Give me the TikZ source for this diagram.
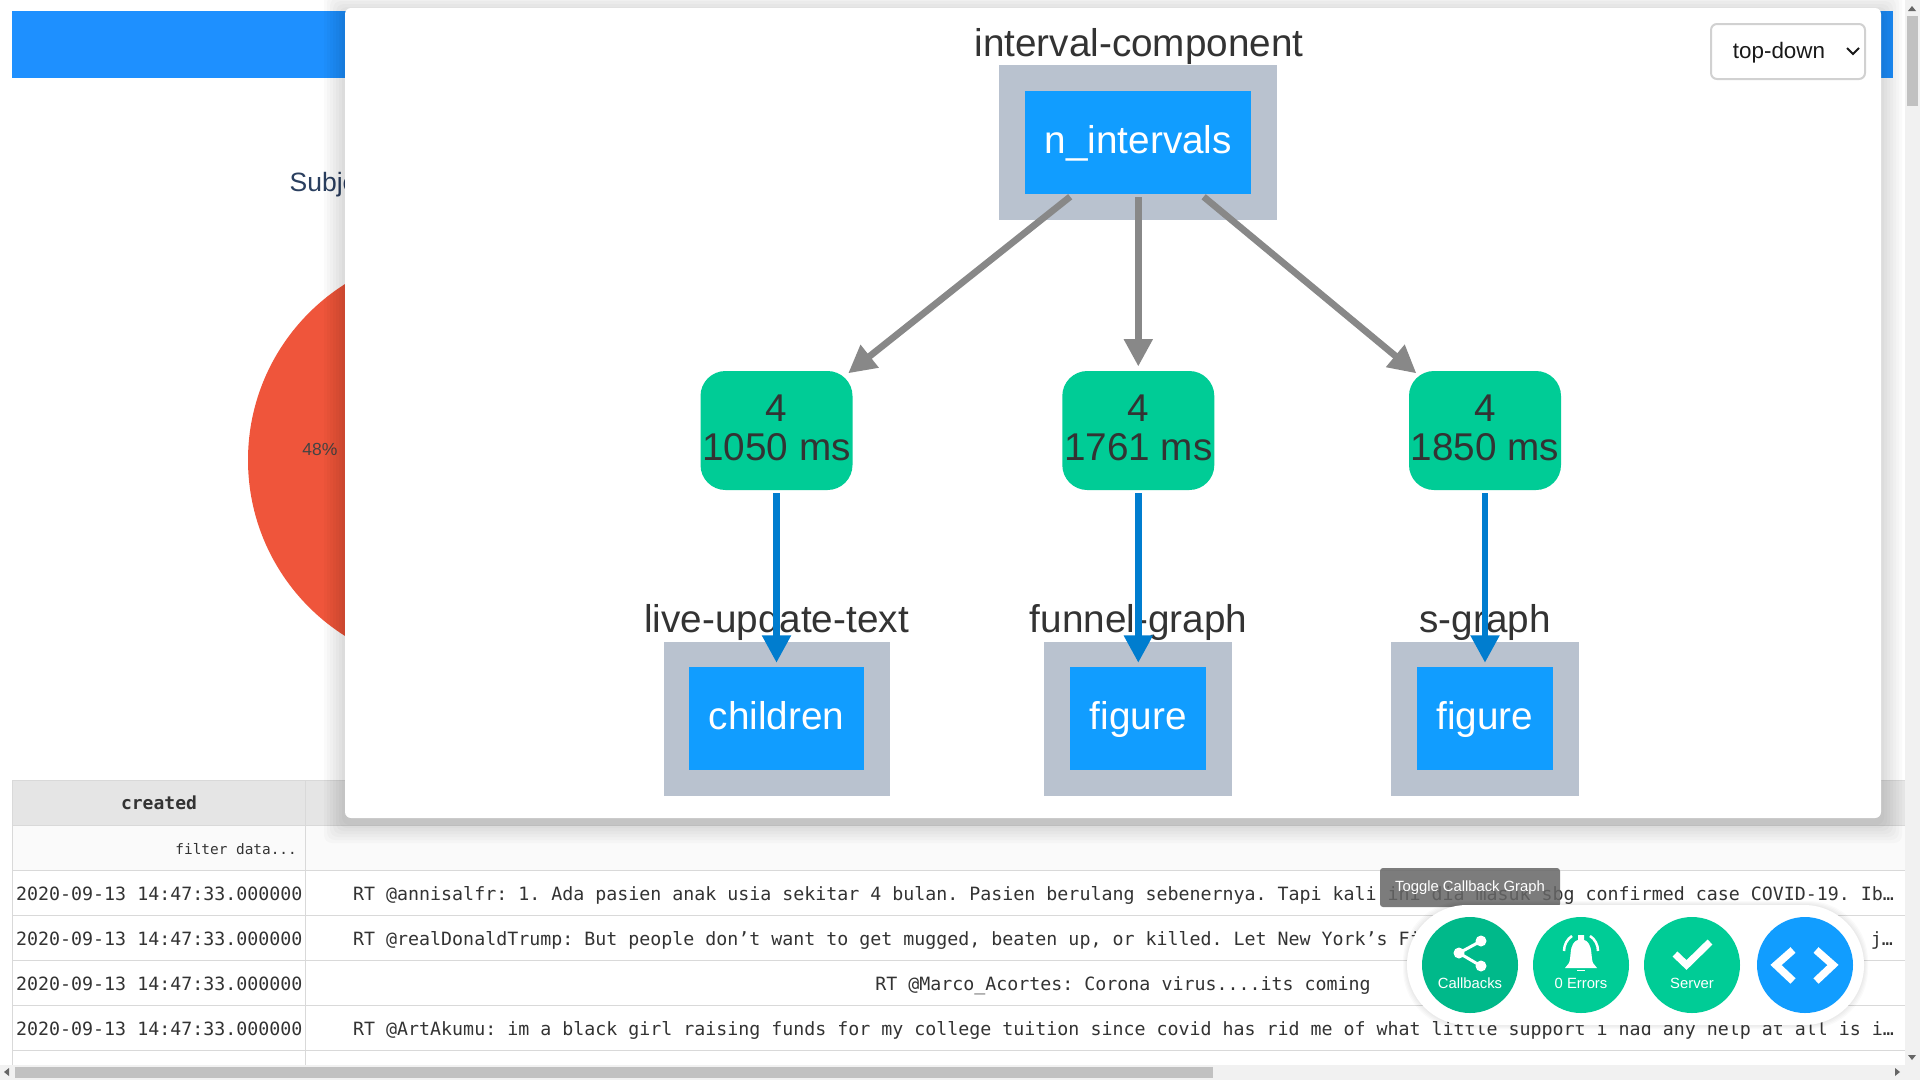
\documentclass[tikz,border=0pt]{standalone}
\usepackage{fontspec}
\setmainfont{Liberation Sans}
\setmonofont{DejaVu Sans Mono}
\usepackage{tikz}
\usetikzlibrary{arrows.meta}
\definecolor{plotblue}{HTML}{119DFF}
\definecolor{barblue}{HTML}{1E90FF}
\definecolor{plotgreen}{HTML}{00CC96}
\definecolor{plotdark}{HTML}{00B98A}
\definecolor{wrapgray}{HTML}{B9C2CF}
\definecolor{gridgray}{HTML}{D9D9D9}
\definecolor{trackgray}{HTML}{F1F1F1}
\definecolor{thumbgray}{HTML}{C1C1C1}
\definecolor{titlenavy}{HTML}{2A3F5F}
\definecolor{piered}{HTML}{EF553B}
\definecolor{edgeblue}{HTML}{007DCF}
\definecolor{edgegray}{HTML}{888888}
\definecolor{pctgray}{HTML}{444444}
\tikzset{
    wrapbox/.style={rectangle, fill=wrapgray, inner sep=0pt},
    propbox/.style={rectangle, fill=plotblue, inner sep=0pt, text=white, text height=29pt, text depth=8pt, font=\fontsize{38.7}{39}\selectfont},
    cbbox/.style={rectangle, rounded corners=25pt, fill=plotgreen, inner sep=0pt, minimum width=152pt, minimum height=119pt, align=center, text=black!80, text depth=5pt, font=\fontsize{38.7}{39}\selectfont},
    idlabel/.style={anchor=base, inner sep=0pt, text=black!80, font=\fontsize{38.7}{39}\selectfont},
    rowtext/.style={anchor=base west, inner sep=0pt, text=black!80, font=\ttfamily\fontsize{18.28}{20}\selectfont},
    roundbtn/.style={circle, inner sep=0pt, minimum size=96pt},
    btntext/.style={inner sep=0pt, anchor=base, text=white, font=\fontsize{14.8}{16}\selectfont},
    grayarrow/.style={draw=edgegray, line width=6.7pt, -{Triangle[length=27.5pt,width=27.5pt]}, shorten <=3pt, shorten >=4.3pt},
    diagarrow/.style={grayarrow, shorten <=4pt, shorten >=-4pt},
    bluearrow/.style={draw=edgeblue, line width=6.7pt, -{Triangle[length=27.5pt,width=27.5pt]}, shorten <=3pt, shorten >=4pt},
    iconline/.style={draw=white, line width=7pt}
}
\begin{document}
\begin{tikzpicture}[x=1pt, y=-1pt]
    \useasboundingbox (0,0) rectangle (1920,1080);
    \fill[white] (0,0) rectangle (1920,1080);

    % Page behind the modal
    \fill[barblue] (12,11) rectangle (1893,78);
    \node[anchor=base west, inner sep=0pt, text=titlenavy, font=\fontsize{26.5}{30}\selectfont] (pie_title) at (289.5,191) {Subje};
    \fill[piered] (456,460) circle (208);
    \node[inner sep=0pt, text=pctgray, font=\fontsize{17.5}{20}\selectfont] (pie_pct) at (320,449) {48\%};

    % Table
    \fill[black!10] (12,780) rectangle (1905,825);
    \fill[black!2] (12,825) rectangle (1905,870);
    \foreach \ypos in {780,825,870,915,960,1005,1050}
        \draw[gridgray, line width=1pt] (12,\ypos) -- (1905,\ypos);
    \draw[gridgray, line width=1pt] (12,780) -- (12,1065);
    \draw[gridgray, line width=1pt] (305.5,780) -- (305.5,1065);
    \node[inner sep=0pt, anchor=base, text=black!80, font=\ttfamily\bfseries\fontsize{18}{20}\selectfont] (col_created) at (159,809) {created};
    \node[inner sep=0pt, anchor=base east, text=black!80, font=\ttfamily\fontsize{14.4}{16}\selectfont] (col_filter) at (297,854) {filter data...};
    \foreach \ypos/\rowname in {900/a,945/b,990/c,1035/d}
        \node[rowtext] (date_\rowname) at (16,\ypos) {2020-09-13 14:47:33.000000};
    \node[rowtext] (text_a) at (353,900) {RT @annisalfr: 1. Ada pasien anak usia sekitar 4 bulan. Pasien berulang sebenernya. Tapi kali ini dia masuk sbg confirmed case COVID-19. Ib…};
    \node[rowtext] (text_b) at (353,945) {RT @realDonaldTrump: But people don’t want to get mugged, beaten up, or killed. Let New York’s Fi};
    \node[rowtext, anchor=base east] (text_bend) at (1893,945) {j…};
    \node[rowtext, anchor=base] (text_c) at (1123,990) {RT @Marco\_Acortes: Corona virus....its coming};
    \node[rowtext] (text_d) at (353,1035) {RT @ArtAkumu: im a black girl raising funds for my college tuition since covid has rid me of what little support i had any help at all is i…};

    % Modal with soft shadow
    \foreach \grow in {3,6,...,21}
        \fill[black, opacity=0.018, rounded corners=8pt] (345-\grow,9-\grow+4) rectangle (1881+\grow,818+\grow+4);
    \fill[white, rounded corners=6pt] (345,8) rectangle (1881,818);

    % Select box
    \draw[black!18, line width=2pt, rounded corners=6pt, fill=white] (1711,24) rectangle (1865,79);
    \node[inner sep=0pt, anchor=base, text=black!90, font=\fontsize{22.4}{24}\selectfont] (select_text) at (1779,58) {top-down};
    \draw[black!90, line width=2pt] (1847,48) -- (1853,54) -- (1859,48);

    % Input
    \node[idlabel] (interval_id) at (1139,56) {interval-component};
    \node[wrapbox, minimum width=278pt, minimum height=155pt] (interval_wrap) at (1138.3,142.5) {};
    \node[propbox, minimum width=226pt, minimum height=103pt] (n_intervals) at (1138.3,142.5) {n\_intervals};

    % Callbacks
    \node[cbbox] (cb_text) at (776.5,430.5) {4\\1050 ms};
    \node[cbbox] (cb_funnel) at (1138.3,430.5) {4\\1761 ms};
    \node[cbbox] (cb_sgraph) at (1485,430.5) {4\\1850 ms};

    % Outputs
    \node[idlabel] (text_id) at (776.5,632) {live-update-text};
    \node[idlabel] (funnel_id) at (1138.5,632) {funnel-graph};
    \node[idlabel] (sgraph_id) at (1485,632) {s-graph};
    \node[wrapbox, minimum width=226pt, minimum height=154pt] (text_wrap) at (776.5,719) {};
    \node[wrapbox, minimum width=188pt, minimum height=154pt] (funnel_wrap) at (1138.3,719) {};
    \node[wrapbox, minimum width=188pt, minimum height=154pt] (sgraph_wrap) at (1485,719) {};
    \node[propbox, minimum width=175pt, minimum height=103pt] (text_children) at (776.5,718.5) {children};
    \node[propbox, minimum width=136pt, minimum height=103pt] (funnel_figure) at (1138.3,718.5) {figure};
    \node[propbox, minimum width=136pt, minimum height=103pt] (sgraph_figure) at (1485,718.5) {figure};

    % Edges
    \draw[diagarrow] (n_intervals) -- (cb_text);
    \draw[grayarrow] (n_intervals) -- (cb_funnel);
    \draw[diagarrow] (n_intervals) -- (cb_sgraph);
    \draw[bluearrow] (cb_text) -- (text_children);
    \draw[bluearrow] (cb_funnel) -- (funnel_figure);
    \draw[bluearrow] (cb_sgraph) -- (sgraph_figure);

    % Tooltip
    \fill[black!60, opacity=0.85, rounded corners=3pt] (1380,868) rectangle (1560,907);
    \node[inner sep=0pt, text=white, font=\fontsize{14.8}{16}\selectfont] (tooltip_text) at (1470,888) {Toggle Callback Graph};

    % Debug menu
    \foreach \grow in {1,2,3,4}
        \fill[black, opacity=0.02, rounded corners=60pt] (1407-\grow,905-\grow) rectangle (1864+\grow,1025+\grow);
    \fill[white, rounded corners=60pt] (1407,905) rectangle (1864,1025);
    \node[roundbtn, fill=plotdark] (btn_callbacks) at (1470,965) {};
    \node[roundbtn, fill=plotgreen] (btn_errors) at (1581,965) {};
    \node[roundbtn, fill=plotgreen] (btn_server) at (1692,965) {};
    \node[roundbtn, fill=plotblue] (btn_code) at (1805,965) {};
    \node[btntext] at (1470,988) {Callbacks};
    \node[btntext] at (1581,988) {0 Errors};
    \node[btntext] at (1692,988) {Server};

    % Share icon
    \draw[white, line width=3pt] (1481,941) -- (1459,953) -- (1481,966);
    \foreach \xpos/\ypos in {1481/941,1459/953,1481/966}
        \fill[white] (\xpos,\ypos) circle (5.5);
    % Bell icon
    \fill[white] (1565,968) -- (1569,963) .. controls (1571,958) and (1570,948) .. (1573,944) .. controls (1575,941) and (1577,940) .. (1578,940) -- (1578,935) -- (1584,935) -- (1584,940) .. controls (1585,940) and (1587,941) .. (1589,944) .. controls (1592,948) and (1591,958) .. (1593,963) -- (1597,968) -- cycle;
    \draw[white, line width=2.5pt] (1564,951) .. controls (1564,945) and (1567,939) .. (1572,936);
    \draw[white, line width=2.5pt] (1598,951) .. controls (1598,945) and (1595,939) .. (1590,936);
    \draw[white, line width=0.7pt] (1577,970) -- (1585,970);
    % Check icon
    \draw[iconline] (1675,954) -- (1686.5,965) -- (1710,942);
    % Code icon
    \draw[iconline, line width=7.5pt] (1793,950) -- (1776,965) -- (1793,981);
    \draw[iconline, line width=7.5pt] (1816,950) -- (1833,965) -- (1816,981);

    % Scrollbars
    \fill[trackgray] (1905,0) rectangle (1920,1080);
    \fill[trackgray] (0,1065) rectangle (1920,1080);
    \fill[thumbgray] (1907,16) rectangle (1918,106);
    \fill[thumbgray] (15,1067) rectangle (1213,1078);
    \fill[black!60] (1908,11) -- (1916,11) -- (1912,6) -- cycle;
    \fill[black!60] (1908,1055) -- (1916,1055) -- (1912,1060) -- cycle;
    \fill[black!60] (9,1068) -- (9,1076) -- (4,1072) -- cycle;
    \fill[black!60] (1895,1068) -- (1895,1076) -- (1900,1072) -- cycle;
\end{tikzpicture}
\end{document}
